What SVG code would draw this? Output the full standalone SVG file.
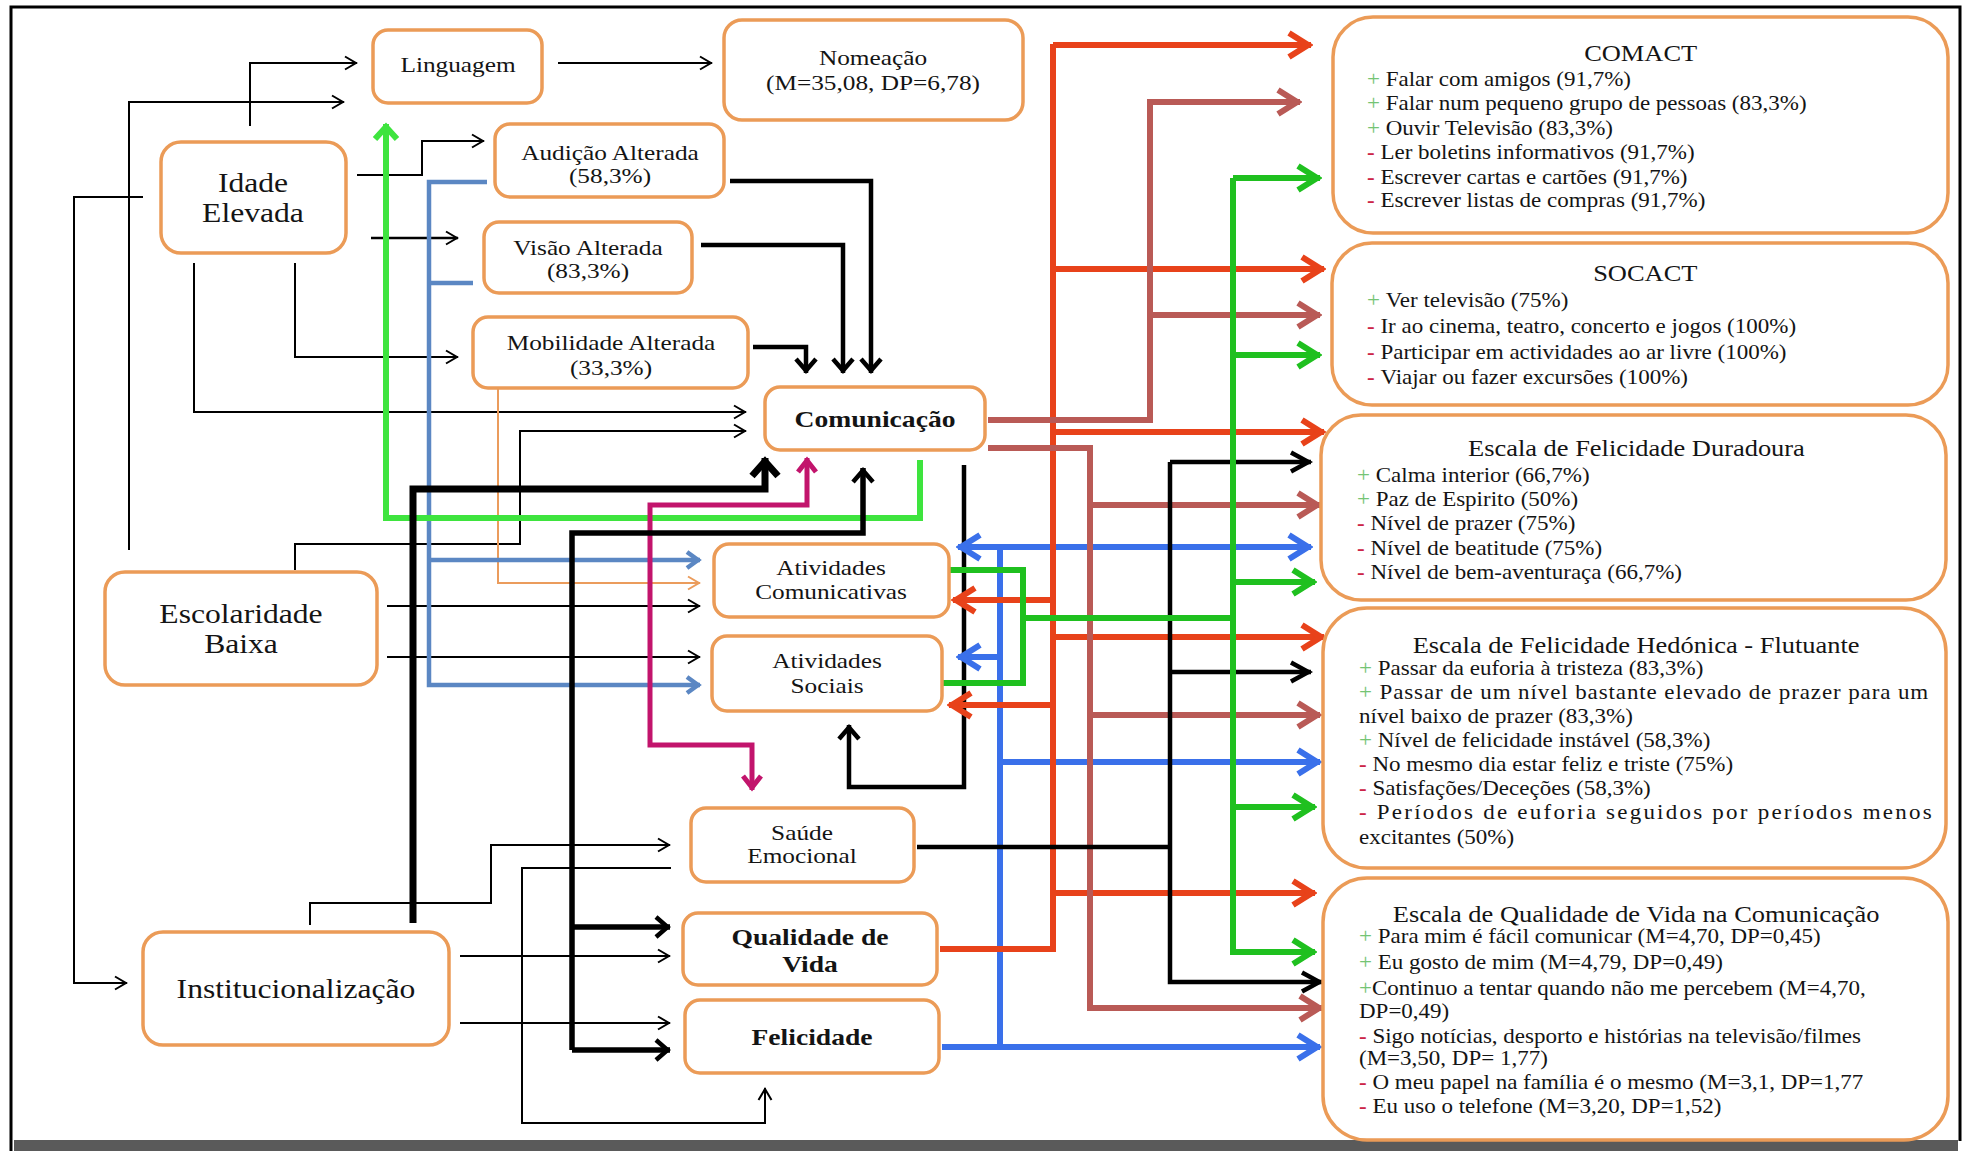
<svg xmlns="http://www.w3.org/2000/svg" width="1971" height="1151" viewBox="0 0 1971 1151">
<style>
.bx{fill:#fff;stroke:#eb9b57;stroke-width:3.5}
.t{font-family:"Liberation Serif","Times New Roman",serif;fill:#141414;text-anchor:middle}
.s22{font-size:22px}
.s28{font-size:27.5px}
.b24{font-size:24px;font-weight:bold}
.it{font-family:"Liberation Serif","Times New Roman",serif;font-size:20px;fill:#141414}
.ti{font-family:"Liberation Serif","Times New Roman",serif;font-size:23px;fill:#141414;text-anchor:middle}
.p{fill:#74c474}
.m{fill:#cc2448;font-weight:bold}
.c path{fill:none;stroke-linejoin:miter}
.thin{stroke:#000;stroke-width:2}
.org{stroke:#eb9c5c;stroke-width:2}
.med{stroke:#000;stroke-width:4.5}
.thick{stroke:#000;stroke-width:7}
.red{stroke:#e8421a;stroke-width:6}
.brn{stroke:#b95a56;stroke-width:6}
.grn{stroke:#1fc01f;stroke-width:6}
.lgr{stroke:#3ee43e;stroke-width:6}
.blu{stroke:#3a70ea;stroke-width:6}
.stl{stroke:#5b87c3;stroke-width:4.5}
.mag{stroke:#c2146c;stroke-width:5}
</style>
<defs>
<marker id="mThin" viewBox="-15 -9 17 18" refX="0" refY="0" markerWidth="17" markerHeight="18" markerUnits="userSpaceOnUse" orient="auto"><path d="M-12,-6.5 L-1,0 L-12,6.5" fill="none" stroke="#000" stroke-width="2"/></marker>
<marker id="mOrg" viewBox="-15 -9 17 18" refX="0" refY="0" markerWidth="17" markerHeight="18" markerUnits="userSpaceOnUse" orient="auto"><path d="M-12,-6.5 L-1,0 L-12,6.5" fill="none" stroke="#eb9c5c" stroke-width="2"/></marker>
<marker id="mMed" viewBox="-18 -13 20 26" refX="0" refY="0" markerWidth="20" markerHeight="26" markerUnits="userSpaceOnUse" orient="auto"><path d="M-14,-10 L-2.5,0 L-14,10" fill="none" stroke="#000" stroke-width="4.5"/></marker>
<marker id="mBlk" viewBox="-24 -13 26 26" refX="0" refY="0" markerWidth="26" markerHeight="26" markerUnits="userSpaceOnUse" orient="auto"><path d="M-20,-9.5 L-2.5,0 L-20,9.5" fill="none" stroke="#000" stroke-width="4.5"/></marker>
<marker id="mThick" viewBox="-24 -17 26 34" refX="0" refY="0" markerWidth="26" markerHeight="34" markerUnits="userSpaceOnUse" orient="auto"><path d="M-18,-13 L-3.5,0 L-18,13" fill="none" stroke="#000" stroke-width="7"/></marker>
<marker id="mRed" viewBox="-27 -16 29 32" refX="0" refY="0" markerWidth="29" markerHeight="32" markerUnits="userSpaceOnUse" orient="auto"><path d="M-22,-12 L-3,0 L-22,12" fill="none" stroke="#e8421a" stroke-width="6"/></marker>
<marker id="mBrn" viewBox="-27 -16 29 32" refX="0" refY="0" markerWidth="29" markerHeight="32" markerUnits="userSpaceOnUse" orient="auto"><path d="M-22,-12 L-3,0 L-22,12" fill="none" stroke="#b95a56" stroke-width="6"/></marker>
<marker id="mGrn" viewBox="-27 -16 29 32" refX="0" refY="0" markerWidth="29" markerHeight="32" markerUnits="userSpaceOnUse" orient="auto"><path d="M-22,-12 L-3,0 L-22,12" fill="none" stroke="#1fc01f" stroke-width="6"/></marker>
<marker id="mBlu" viewBox="-27 -16 29 32" refX="0" refY="0" markerWidth="29" markerHeight="32" markerUnits="userSpaceOnUse" orient="auto-start-reverse"><path d="M-22,-12 L-3,0 L-22,12" fill="none" stroke="#3a70ea" stroke-width="6"/></marker>
<marker id="mLgr" viewBox="-20 -15 22 30" refX="0" refY="0" markerWidth="22" markerHeight="30" markerUnits="userSpaceOnUse" orient="auto"><path d="M-15,-11 L-3,0 L-15,11" fill="none" stroke="#3ee43e" stroke-width="6"/></marker>
<marker id="mStl" viewBox="-17 -11 19 22" refX="0" refY="0" markerWidth="19" markerHeight="22" markerUnits="userSpaceOnUse" orient="auto"><path d="M-13,-8 L-2,0 L-13,8" fill="none" stroke="#5b87c3" stroke-width="4.5"/></marker>
<marker id="mMag" viewBox="-18 -12 20 24" refX="0" refY="0" markerWidth="20" markerHeight="24" markerUnits="userSpaceOnUse" orient="auto-start-reverse"><path d="M-14,-9 L-2.5,0 L-14,9" fill="none" stroke="#c2146c" stroke-width="5"/></marker>
</defs>
<rect width="1971" height="1151" fill="#fff"/>
<g id="frame">
<path d="M11,1151 V7 H1960 V1141" fill="none" stroke="#000" stroke-width="3"/>
<rect x="14" y="1140" width="1944" height="11" fill="#5a5a5a"/>
</g>
<g id="connectors" class="c">
<path class="thin" d="M250,126 V63 H357" marker-end="url(#mThin)"/>
<path class="thin" d="M129,550 V102 H344" marker-end="url(#mThin)"/>
<path class="thin" d="M143,197 H74 V983 H127" marker-end="url(#mThin)"/>
<path class="thin" d="M357,175 H422 V141 H484" marker-end="url(#mThin)"/>
<path class="thin" d="M371,238 H458" marker-end="url(#mThin)" style="stroke-width:2.5"/>
<path class="thin" d="M295,263 V357 H458" marker-end="url(#mThin)"/>
<path class="thin" d="M194,263 V412 H746" marker-end="url(#mThin)"/>
<path class="thin" d="M295,570 V544 H520 V431 H746" marker-end="url(#mThin)"/>
<path class="thin" d="M387,606 H700" marker-end="url(#mThin)"/>
<path class="thin" d="M387,657 H700" marker-end="url(#mThin)"/>
<path class="thin" d="M558,63 H712" marker-end="url(#mThin)"/>
<path class="thin" d="M310,925 V903 H491 V845 H670" marker-end="url(#mThin)"/>
<path class="thin" d="M671,868 H522 V1123 H765 V1088" marker-end="url(#mThin)"/>
<path class="thin" d="M460,956 H670" marker-end="url(#mThin)"/>
<path class="thin" d="M460,1023 H670" marker-end="url(#mThin)"/>
<path class="org" d="M498,388 V583 H700" marker-end="url(#mOrg)"/>
<path class="stl" d="M487,182 H429 V685 H700" marker-end="url(#mStl)"/>
<path class="stl" d="M473,283 H429"/>
<path class="stl" d="M429,560 H700" marker-end="url(#mStl)"/>
<path class="lgr" d="M920,460 V518 H386 V124" marker-end="url(#mLgr)"/>
<path class="thick" d="M413,923 V489 H765 V458" marker-end="url(#mThick)"/>
<path class="mag" d="M752,790 V745 H650 V505 H807 V458" marker-start="url(#mMag)" marker-end="url(#mMag)"/>
<path class="med" d="M572,1050 V533 H863 V468" marker-end="url(#mMed)" style="stroke-width:5.5"/>
<path class="med" d="M572,927 H670" marker-end="url(#mMed)" style="stroke-width:5.5"/>
<path class="med" d="M572,1050 H670" marker-end="url(#mMed)" style="stroke-width:5.5"/>
<path class="med" d="M730,181 H871 V373" marker-end="url(#mMed)"/>
<path class="med" d="M701,245 H843 V373" marker-end="url(#mMed)"/>
<path class="med" d="M753,347 H806 V373" marker-end="url(#mMed)"/>
<path class="med" d="M964,465 V787 H849 V725" marker-end="url(#mMed)"/>
<path class="blu" d="M1000,547 V1047"/>
<path class="blu" d="M958,547 H1311" marker-start="url(#mBlu)" marker-end="url(#mBlu)"/>
<path class="blu" d="M1000,657 H958" marker-end="url(#mBlu)"/>
<path class="blu" d="M1000,762 H1320" marker-end="url(#mBlu)"/>
<path class="blu" d="M942,1047 H1320" marker-end="url(#mBlu)"/>
<path class="red" d="M1053,44 V949 H940"/>
<path class="red" d="M1053,45 H1311" marker-end="url(#mRed)"/>
<path class="red" d="M1053,269 H1324" marker-end="url(#mRed)"/>
<path class="red" d="M1053,432 H1324" marker-end="url(#mRed)"/>
<path class="red" d="M1053,637 H1324" marker-end="url(#mRed)"/>
<path class="red" d="M1053,893 H1315" marker-end="url(#mRed)"/>
<path class="red" d="M1053,600 H953" marker-end="url(#mRed)"/>
<path class="red" d="M1053,705 H949" marker-end="url(#mRed)"/>
<path class="brn" d="M988,420 H1150 V102 H1300" marker-end="url(#mBrn)"/>
<path class="brn" d="M1150,315 H1320" marker-end="url(#mBrn)"/>
<path class="brn" d="M988,448 H1090 V1008 H1322" marker-end="url(#mBrn)"/>
<path class="brn" d="M1090,505 H1320" marker-end="url(#mBrn)"/>
<path class="brn" d="M1090,715 H1320" marker-end="url(#mBrn)"/>
<path class="med" d="M917,847 H1170"/>
<path class="med" d="M1170,462 V982 H1322" marker-end="url(#mBlk)"/>
<path class="med" d="M1170,462 H1311" marker-end="url(#mBlk)"/>
<path class="med" d="M1170,672 H1311" marker-end="url(#mBlk)"/>
<path class="grn" d="M949,570 H1023 V683 H940"/>
<path class="grn" d="M1023,618 H1233"/>
<path class="grn" d="M1233,178 V952 H1315" marker-end="url(#mGrn)"/>
<path class="grn" d="M1233,178 H1320" marker-end="url(#mGrn)"/>
<path class="grn" d="M1233,355 H1320" marker-end="url(#mGrn)"/>
<path class="grn" d="M1233,582 H1315" marker-end="url(#mGrn)"/>
<path class="grn" d="M1233,807 H1315" marker-end="url(#mGrn)"/>
</g>
<g id="n-linguagem"><rect class="bx" x="373" y="30" width="169" height="73" rx="15"/><text class="t s22" transform="translate(458,72) scale(1.15,1)">Linguagem</text></g>
<g id="n-nomeacao"><rect class="bx" x="724" y="20" width="299" height="100" rx="18"/><text class="t s22" transform="translate(873,0) scale(1.15,1)"><tspan x="0" y="65">Nomeação</tspan><tspan x="0" y="90">(M=35,08, DP=6,78)</tspan></text></g>
<g id="n-idade"><rect class="bx" x="161" y="142" width="185" height="111" rx="20"/><text class="t s28" transform="translate(253,0) scale(1.15,1)"><tspan x="0" y="192">Idade</tspan><tspan x="0" y="222">Elevada</tspan></text></g>
<g id="n-audicao"><rect class="bx" x="495" y="124" width="229" height="73" rx="15"/><text class="t s22" transform="translate(610,0) scale(1.15,1)"><tspan x="0" y="160">Audição Alterada</tspan><tspan x="0" y="183">(58,3%)</tspan></text></g>
<g id="n-visao"><rect class="bx" x="484" y="222" width="208" height="71" rx="15"/><text class="t s22" transform="translate(588,0) scale(1.15,1)"><tspan x="0" y="255">Visão Alterada</tspan><tspan x="0" y="278">(83,3%)</tspan></text></g>
<g id="n-mobilidade"><rect class="bx" x="473" y="317" width="275" height="71" rx="15"/><text class="t s22" transform="translate(611,0) scale(1.15,1)"><tspan x="0" y="350">Mobilidade Alterada</tspan><tspan x="0" y="375">(33,3%)</tspan></text></g>
<g id="n-comunicacao"><rect class="bx" x="765" y="387" width="220" height="63" rx="15"/><text class="t b24" transform="translate(875,427) scale(1.15,1)">Comunicação</text></g>
<g id="n-escolaridade"><rect class="bx" x="105" y="572" width="272" height="113" rx="20"/><text class="t s28" transform="translate(241,0) scale(1.15,1)"><tspan x="0" y="623">Escolaridade</tspan><tspan x="0" y="653">Baixa</tspan></text></g>
<g id="n-ativcom"><rect class="bx" x="714" y="544" width="235" height="73" rx="15"/><text class="t s22" transform="translate(831,0) scale(1.15,1)"><tspan x="0" y="575">Atividades</tspan><tspan x="0" y="599">Comunicativas</tspan></text></g>
<g id="n-ativsoc"><rect class="bx" x="712" y="636" width="230" height="75" rx="15"/><text class="t s22" transform="translate(827,0) scale(1.15,1)"><tspan x="0" y="668">Atividades</tspan><tspan x="0" y="693">Sociais</tspan></text></g>
<g id="n-saude"><rect class="bx" x="691" y="808" width="223" height="74" rx="15"/><text class="t s22" transform="translate(802,0) scale(1.15,1)"><tspan x="0" y="840">Saúde</tspan><tspan x="0" y="863">Emocional</tspan></text></g>
<g id="n-qualidade"><rect class="bx" x="683" y="913" width="254" height="72" rx="15"/><text class="t b24" transform="translate(810,0) scale(1.15,1)"><tspan x="0" y="945">Qualidade de</tspan><tspan x="0" y="972">Vida</tspan></text></g>
<g id="n-felicidade"><rect class="bx" x="685" y="1000" width="254" height="73" rx="15"/><text class="t b24" transform="translate(812,1045) scale(1.15,1)">Felicidade</text></g>
<g id="n-instit"><rect class="bx" x="143" y="932" width="306" height="113" rx="20"/><text class="t s28" transform="translate(296,998) scale(1.15,1)">Institucionalização</text></g>
<g id="n-comact"><rect class="bx" x="1333" y="17" width="615" height="216" rx="40"/>
<g transform="translate(1367,0) scale(1.15,1)">
<text class="ti" x="238" y="61">COMACT</text>
<text class="it" x="0" y="86"><tspan class="p">+ </tspan>Falar com amigos (91,7%)</text>
<text class="it" x="0" y="110"><tspan class="p">+ </tspan>Falar num pequeno grupo de pessoas (83,3%)</text>
<text class="it" x="0" y="135"><tspan class="p">+ </tspan>Ouvir Televisão (83,3%)</text>
<text class="it" x="0" y="159"><tspan class="m">- </tspan>Ler boletins informativos (91,7%)</text>
<text class="it" x="0" y="184"><tspan class="m">- </tspan>Escrever cartas e cartões (91,7%)</text>
<text class="it" x="0" y="207"><tspan class="m">- </tspan>Escrever listas de compras (91,7%)</text>
</g></g>
<g id="n-socact"><rect class="bx" x="1332" y="243" width="616" height="162" rx="40"/>
<g transform="translate(1367,0) scale(1.15,1)">
<text class="ti" x="242" y="281">SOCACT</text>
<text class="it" x="0" y="307"><tspan class="p">+  </tspan>Ver televisão (75%)</text>
<text class="it" x="0" y="333"><tspan class="m">- </tspan>Ir ao cinema, teatro, concerto e jogos (100%)</text>
<text class="it" x="0" y="359"><tspan class="m">- </tspan>Participar em actividades ao ar livre (100%)</text>
<text class="it" x="0" y="384"><tspan class="m">- </tspan>Viajar ou fazer excursões (100%)</text>
</g></g>
<g id="n-duradoura"><rect class="bx" x="1321" y="415" width="625" height="185" rx="40"/>
<g transform="translate(1357,0) scale(1.15,1)">
<text class="ti" x="243" y="456">Escala de Felicidade Duradoura</text>
<text class="it" x="0" y="482"><tspan class="p">+ </tspan>Calma interior (66,7%)</text>
<text class="it" x="0" y="506"><tspan class="p">+ </tspan>Paz de Espirito (50%)</text>
<text class="it" x="0" y="530"><tspan class="m">- </tspan>Nível de prazer (75%)</text>
<text class="it" x="0" y="555"><tspan class="m">- </tspan>Nível de beatitude (75%)</text>
<text class="it" x="0" y="579"><tspan class="m">- </tspan>Nível de bem-aventuraça (66,7%)</text>
</g></g>
<g id="n-hedonica"><rect class="bx" x="1323" y="608" width="623" height="260" rx="44"/>
<g transform="translate(1359,0) scale(1.15,1)">
<text class="ti" x="241" y="653">Escala de Felicidade Hedónica - Flutuante</text>
<text class="it" x="0" y="675"><tspan class="p">+ </tspan>Passar da euforia à tristeza (83,3%)</text>
<text class="it" x="0" y="699" textLength="495" lengthAdjust="spacing"><tspan class="p">+ </tspan>Passar de um nível bastante elevado de prazer para um</text>
<text class="it" x="0" y="723">nível baixo de prazer (83,3%)</text>
<text class="it" x="0" y="747"><tspan class="p">+ </tspan>Nível de felicidade instável (58,3%)</text>
<text class="it" x="0" y="771"><tspan class="m">- </tspan>No mesmo dia estar feliz e triste (75%)</text>
<text class="it" x="0" y="795"><tspan class="m">- </tspan>Satisfações/Deceções (58,3%)</text>
<text class="it" x="0" y="819" textLength="498" lengthAdjust="spacing"><tspan class="m">- </tspan>Períodos de euforia seguidos por períodos menos</text>
<text class="it" x="0" y="844">excitantes (50%)</text>
</g></g>
<g id="n-qdv"><rect class="bx" x="1323" y="878" width="625" height="262" rx="44"/>
<g transform="translate(1359,0) scale(1.15,1)">
<text class="ti" x="241" y="922">Escala de Qualidade de Vida na Comunicação</text>
<text class="it" x="0" y="943"><tspan class="p">+ </tspan>Para mim é fácil comunicar (M=4,70, DP=0,45)</text>
<text class="it" x="0" y="969"><tspan class="p">+ </tspan>Eu gosto de mim (M=4,79, DP=0,49)</text>
<text class="it" x="0" y="995"><tspan class="p">+</tspan>Continuo a tentar quando não me percebem (M=4,70,</text>
<text class="it" x="0" y="1018">DP=0,49)</text>
<text class="it" x="0" y="1043"><tspan class="m">- </tspan>Sigo notícias, desporto e histórias na televisão/filmes</text>
<text class="it" x="0" y="1065">(M=3,50, DP= 1,77)</text>
<text class="it" x="0" y="1089"><tspan class="m">- </tspan>O meu papel na família é o mesmo (M=3,1, DP=1,77</text>
<text class="it" x="0" y="1113"><tspan class="m">- </tspan>Eu uso o telefone (M=3,20, DP=1,52)</text>
</g></g>
</svg>
